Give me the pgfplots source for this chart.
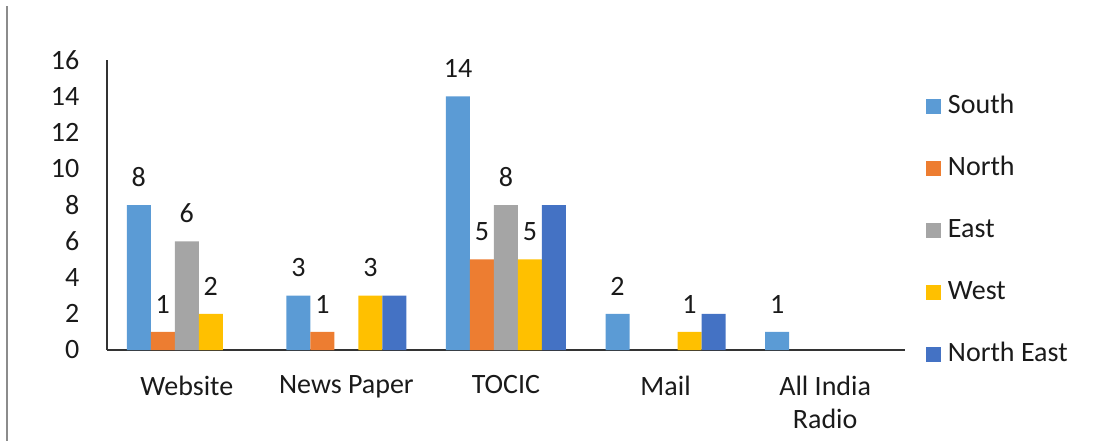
\documentclass[border=0pt]{standalone}
\usepackage{pgfplots}
\pgfplotsset{compat=1.18}
\usepackage{fontspec}
\setmainfont{Carlito}
\definecolor{south}{HTML}{5B9BD5}
\definecolor{north}{HTML}{ED7D31}
\definecolor{east}{HTML}{A5A5A5}
\definecolor{west}{HTML}{FFC000}
\definecolor{neast}{HTML}{4472C4}
\definecolor{txt}{HTML}{1A1A1A}
\begin{document}
\fontsize{14}{16.5}\selectfont
\begin{tikzpicture}
\useasboundingbox (-53.5pt,-45.5pt) rectangle (496.5pt,175pt);
\draw[black!45, line width=0.6pt] (-50pt,172pt) -- (-50pt,-45.5pt);
\begin{axis}[
  scale only axis, width=399pt, height=145pt,
  ybar=0pt, bar width=12pt,
  xmin=-0.5, xmax=4.5, ymin=0, ymax=16,
  xtick={0,...,4},
  xticklabels={Website,News Paper,TOCIC,Mail,All India\\Radio},
  ytick={0,2,...,16},
  axis x line=bottom, axis y line=left,
  axis line style={-, black!80, line width=0.6pt},
  major tick length=0pt,
  ticklabel style={text=txt},
  xticklabel style={align=center, yshift=-8pt},
  yticklabel style={xshift=-9pt},
  /pgf/number format/assume math mode=true,
  every node near coord/.append style={yshift=4.5pt, text=txt},
  legend image code/.code={\fill[#1] (0pt,-3.75pt) rectangle (7.5pt,3.75pt);},
  legend style={draw=none, fill=none, inner sep=0pt, outer sep=0pt,
    at={(1.0263,0.886)}, anchor=north west, text=txt,
    nodes={inner sep=0pt, text height=10pt, text depth=3pt},
    column sep=3.5pt, row sep=18pt},
  legend cell align=left,
]
\addplot[fill=south, draw=none, nodes near coords] coordinates {(0,8) (1,3) (2,14) (3,2) (4,1)};
\addplot[fill=north, draw=none, nodes near coords] coordinates {(0,1) (1,1) (2,5)};
\addplot[fill=east, draw=none, nodes near coords] coordinates {(0,6) (2,8)};
\addplot[fill=west, draw=none, nodes near coords] coordinates {(0,2) (1,3) (2,5) (3,1)};
\addplot[fill=neast, draw=none] coordinates {(1,3) (2,8) (3,2)};
\legend{South,North,East,West,North East}
\end{axis}
\end{tikzpicture}
\end{document}
